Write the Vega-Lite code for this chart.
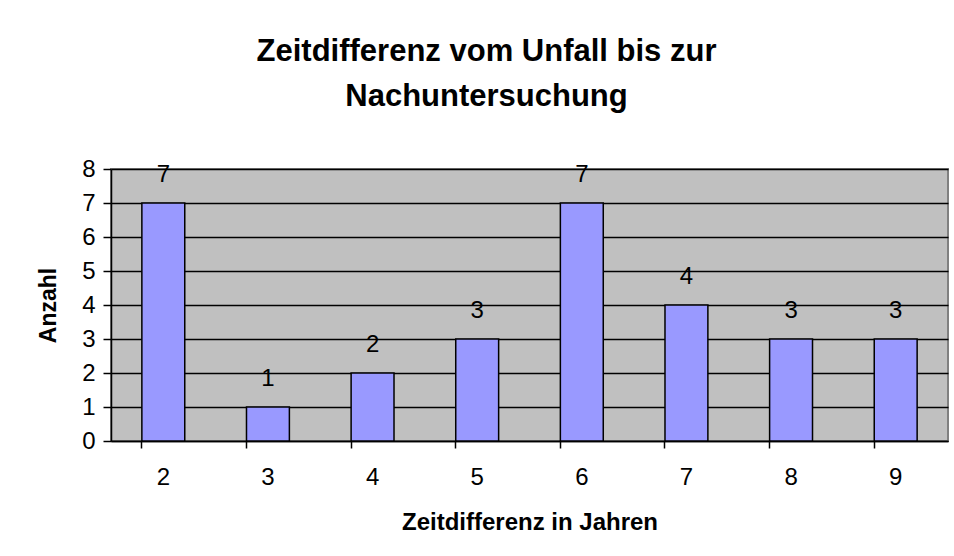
{
  "$schema": "https://vega.github.io/schema/vega-lite/v6.json",
  "autosize": "none",
  "width": 837,
  "height": 272,
  "padding": {"left": 111, "top": 169, "right": 6, "bottom": 115},
  "background": "white",
  "title": {
    "text": ["Zeitdifferenz vom Unfall bis zur", "Nachuntersuchung"],
    "font": "Liberation Sans",
    "fontSize": 31,
    "fontWeight": "bold",
    "color": "black",
    "anchor": "middle",
    "lineHeight": 45,
    "offset": 44,
    "dx": -43
  },
  "data": {
    "values": [
      {"jahre": "2", "anzahl": 7},
      {"jahre": "3", "anzahl": 1},
      {"jahre": "4", "anzahl": 2},
      {"jahre": "5", "anzahl": 3},
      {"jahre": "6", "anzahl": 7},
      {"jahre": "7", "anzahl": 4},
      {"jahre": "8", "anzahl": 3},
      {"jahre": "9", "anzahl": 3}
    ]
  },
  "encoding": {
    "x": {
      "field": "jahre",
      "type": "ordinal",
      "scale": {"paddingInner": 0.59, "paddingOuter": 0.295},
      "axis": {
        "title": "Zeitdifferenz in Jahren",
        "labelAngle": 0,
        "bandPosition": 0,
        "labelFont": "Liberation Sans",
        "labelFontSize": 24,
        "labelColor": "black",
        "labelPadding": 17,
        "labelBaseline": "top",
        "titleFont": "Liberation Sans",
        "titleFontSize": 24,
        "titleFontWeight": "bold",
        "titleColor": "black",
        "titlePadding": 21,
        "domainColor": "black",
        "domainWidth": 1.5,
        "tickColor": "black",
        "tickWidth": 1.5,
        "tickSize": 7,
        "grid": false
      }
    },
    "y": {
      "field": "anzahl",
      "type": "quantitative",
      "scale": {"domain": [0, 8], "nice": false},
      "axis": {
        "title": "Anzahl",
        "values": [0, 1, 2, 3, 4, 5, 6, 7, 8],
        "labelOverlap": false,
        "labelFont": "Liberation Sans",
        "labelFontSize": 24,
        "labelColor": "black",
        "labelPadding": 8,
        "titleFont": "Liberation Sans",
        "titleFontSize": 23,
        "titleFontWeight": "bold",
        "titleColor": "black",
        "titlePadding": 21,
        "domainColor": "black",
        "domainWidth": 1.5,
        "tickColor": "black",
        "tickWidth": 1.5,
        "tickSize": 8,
        "grid": true,
        "gridColor": "black",
        "gridWidth": 1.3,
        "gridOpacity": 1
      }
    }
  },
  "layer": [
    {
      "mark": {"type": "bar", "color": "#9999FF", "stroke": "black", "strokeWidth": 1.5}
    },
    {
      "mark": {
        "type": "text",
        "baseline": "middle",
        "dy": -28,
        "font": "Liberation Sans",
        "fontSize": 24,
        "color": "black"
      },
      "encoding": {"text": {"field": "anzahl", "type": "quantitative"}}
    }
  ],
  "config": {
    "view": {"fill": "#C0C0C0", "stroke": "#808080", "strokeWidth": 2}
  }
}
